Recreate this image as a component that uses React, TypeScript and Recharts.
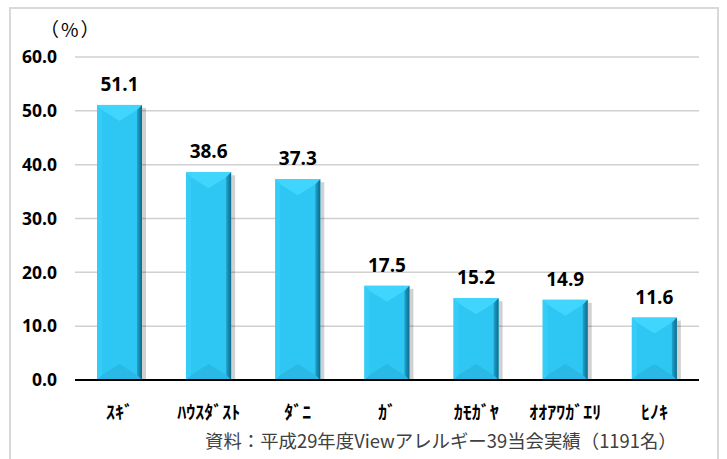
import React from "react";
import { BarChart, Bar, XAxis, YAxis, CartesianGrid, LabelList } from "recharts";

const allergens = ["ｽｷﾞ", "ﾊｳｽﾀﾞｽﾄ", "ﾀﾞﾆ", "ｶﾞ", "ｶﾓｶﾞﾔ", "ｵｵｱﾜｶﾞｴﾘ", "ﾋﾉｷ"];
const rates = [51.1, 38.6, 37.3, 17.5, 15.2, 14.9, 11.6];
const yTicks = [0, 10, 20, 30, 40, 50, 60];

const data = allergens.map((name, i) => ({ name, rate: rates[i] }));

const JP = '"Noto Sans CJK JP", "Noto Sans", sans-serif';

function BevelBar(props: any) {
  const { x, y, width: w, height: h } = props;
  if (!h || h <= 0) return null;
  const s = 5; // side bevel
  const t = Math.min(16, h / 2); // depth of the top / bottom V
  return (
    <g>
      <rect x={x + w} y={y + 3} width={4} height={h - 3} fill="rgba(0,0,0,0.18)" />
      <rect x={x} y={y} width={w} height={h} fill="#2ec6f3" />
      {/* top bevel */}
      <polygon points={`${x},${y} ${x + w},${y} ${x + w - s},${y + s} ${x + w / 2},${y + t} ${x + s},${y + s}`} fill="#40d5fc" />
      {/* bottom bevel */}
      <polygon points={`${x},${y + h} ${x + w},${y + h} ${x + w - s},${y + h - s} ${x + w / 2},${y + h - t} ${x + s},${y + h - s}`} fill="#2ab9e6" />
      {/* left side */}
      <polygon points={`${x},${y} ${x + s},${y + s} ${x + s},${y + h - s} ${x},${y + h}`} fill="#35cdf8" />
      {/* right side */}
      <polygon points={`${x + w},${y} ${x + w - s},${y + s} ${x + w - s},${y + h - s} ${x + w},${y + h}`} fill="url(#rightEdge)" />
    </g>
  );
}

function CategoryTick(props: any) {
  const { x, y, payload } = props;
  return (
    <text x={x} y={y + 31} textAnchor="middle" fontFamily={JP} fontWeight={700} fontSize={18} fill="#000">
      {payload.value}
    </text>
  );
}

export default function App() {
  return (
    <div style={{ position: "absolute", left: 0, top: 0, width: 727, height: 459, background: "#fff", overflow: "hidden" }}>
      <div
        style={{
          position: "absolute",
          left: 9,
          top: 7,
          width: 710,
          height: 470,
          border: "2px solid #d9d9d9",
          boxSizing: "border-box",
        }}
      />
      <BarChart
        width={727}
        height={459}
        data={data}
        margin={{ top: 57, right: 28, left: 0, bottom: 0 }}
        barCategoryGap={22}
        style={{ position: "absolute", left: 0, top: 0 }}
      >
        <defs>
          <linearGradient id="rightEdge" x1="0" y1="0" x2="1" y2="0">
            <stop offset="0%" stopColor="#1fa3cf" />
            <stop offset="100%" stopColor="#0d6a8a" />
          </linearGradient>
        </defs>
        <CartesianGrid vertical={false} stroke="#d0d0d0" strokeWidth={1.5} />
        <XAxis
          dataKey="name"
          height={79}
          axisLine={{ stroke: "#000", strokeWidth: 2 }}
          tickLine={false}
          tick={<CategoryTick />}
          interval={0}
        />
        <YAxis
          width={75}
          domain={[0, 60]}
          ticks={yTicks}
          axisLine={false}
          tickLine={false}
          tickSize={0}
          tickMargin={18}
          tickFormatter={(v: number) => v.toFixed(1)}
          tick={{ fontFamily: '"Open Sans", sans-serif', fontWeight: 700, fontSize: 17.5, fill: "#000" }}
        />
        <Bar dataKey="rate" shape={<BevelBar />} isAnimationActive={false}>
          <LabelList
            dataKey="rate"
            position="top"
            offset={14}
            formatter={(v: any) => Number(v).toFixed(1)}
            style={{ fontFamily: '"Open Sans", sans-serif', fontWeight: 700, fontSize: 19, fill: "#000" }}
          />
        </Bar>
      </BarChart>
      <div
        style={{
          position: "absolute",
          left: 40,
          top: 16,
          fontFamily: JP,
          fontSize: 19,
          color: "#000",
          lineHeight: "26px",
          letterSpacing: 2,
        }}
      >
        （%）
      </div>
      <div
        style={{
          position: "absolute",
          left: 205,
          top: 427,
          fontFamily: JP,
          fontSize: 18.4,
          color: "#404040",
          lineHeight: "26px",
          whiteSpace: "nowrap",
        }}
      >
        資料：平成29年度Viewアレルギー39当会実績（1191名）
      </div>
    </div>
  );
}
